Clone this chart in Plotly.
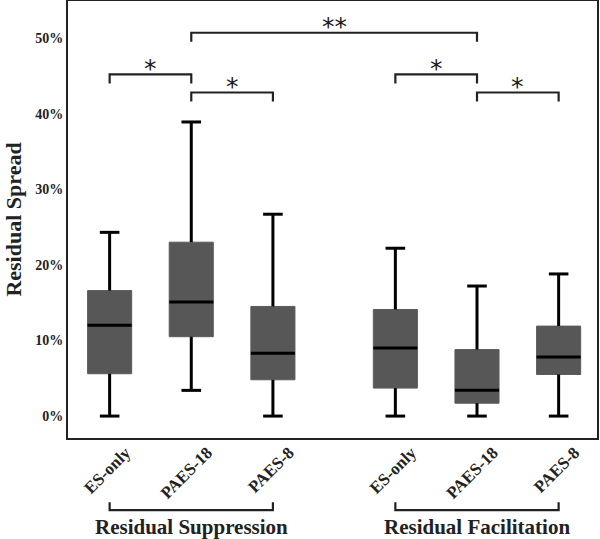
import plotly.graph_objects as go

# ---- data ----
categories = ["ES-only", "PAES-18", "PAES-8", "ES-only", "PAES-18", "PAES-8"]
positions = [0, 1, 2, 3.5, 4.5, 5.5]
lower = [0.0, 3.4, 0.0, 0.0, 0.0, 0.0]
q1 = [5.6, 10.5, 4.8, 3.7, 1.7, 5.5]
median = [12.0, 15.1, 8.3, 9.0, 3.4, 7.8]
q3 = [16.6, 23.0, 14.5, 14.1, 8.8, 11.9]
upper = [24.3, 38.9, 26.7, 22.2, 17.2, 18.8]

y_ticks = [0, 10, 20, 30, 40, 50]
y_ticktext = ["0%", "10%", "20%", "30%", "40%", "50%"]

# significance comparisons (category indices)
comp_a = [0, 1, 1, 3, 4]
comp_b = [1, 2, 4, 4, 5]
comp_y = [45.2, 42.8, 50.7, 45.2, 42.8]
comp_label = ["*", "*", "**", "*", "*"]

groups = ["Residual Suppression", "Residual Facilitation"]
group_first = [0, 3]
group_last = [2, 5]

FONT = "Liberation Serif"
BOX_W = 0.54
CAP_HW = 0.12
DROP = 1.2

fig = go.Figure()

fig.add_trace(go.Box(
    x=positions, q1=q1, median=median, q3=q3,
    lowerfence=lower, upperfence=upper,
    width=BOX_W, fillcolor="#575757",
    line=dict(color="#5c5c5c", width=1),
    whiskerwidth=0, boxpoints=False, showlegend=False, hoverinfo="skip",
))

# black whiskers, caps and medians
wx, wy = [], []
for p, lo, a, m, b, hi in zip(positions, lower, q1, median, q3, upper):
    wx += [p, p, None, p, p, None]
    wy += [b, hi, None, lo, a, None]
    wx += [p - CAP_HW, p + CAP_HW, None, p - CAP_HW, p + CAP_HW, None]
    wy += [hi, hi, None, lo, lo, None]
fig.add_trace(go.Scatter(x=wx, y=wy, mode="lines",
                         line=dict(color="black", width=3),
                         showlegend=False, hoverinfo="skip"))
mx, my = [], []
for p, m in zip(positions, median):
    mx += [p - BOX_W / 2, p + BOX_W / 2, None]
    my += [m, m, None]
fig.add_trace(go.Scatter(x=mx, y=my, mode="lines",
                         line=dict(color="black", width=3),
                         showlegend=False, hoverinfo="skip"))

# significance brackets
bx, by = [], []
for a, b, yv, lab in zip(comp_a, comp_b, comp_y, comp_label):
    xa, xb = positions[a], positions[b]
    bx += [xa, xa, xb, xb, None]
    by += [yv - DROP, yv, yv, yv - DROP, None]
    fig.add_annotation(x=(xa + xb) / 2, y=yv + 0.8, xref="x", yref="y",
                       text=lab, showarrow=False, yanchor="middle",
                       font=dict(family="DejaVu Sans", size=25, color="#1a1a1a"))
fig.add_trace(go.Scatter(x=bx, y=by, mode="lines",
                         line=dict(color="#222", width=2.2),
                         showlegend=False, hoverinfo="skip"))

# group brackets below the axis
for name, f, l in zip(groups, group_first, group_last):
    xa, xb = positions[f], positions[l]
    fig.add_shape(type="path", xref="x", yref="paper",
                  path=f"M {xa} -0.147 L {xa} -0.165 L {xb} -0.165 L {xb} -0.147",
                  line=dict(color="#222", width=2.2))
    fig.add_annotation(x=(xa + xb) / 2, y=-0.203, xref="x", yref="paper",
                       text=name, showarrow=False, yanchor="middle",
                       font=dict(family=FONT, size=21, color="#222", weight="bold"))

fig.update_layout(
    width=600, height=539,
    margin=dict(l=68, r=3, t=1, b=101),
    plot_bgcolor="white", paper_bgcolor="white",
    font=dict(family=FONT, color="#222"),
)
fig.update_xaxes(
    range=[-0.51, 5.97], tickvals=positions, ticktext=categories,
    tickangle=-45, showgrid=False, zeroline=False, ticks="",
    ticklabelshift=16, ticklabelstandoff=-4,
    tickfont=dict(family=FONT, size=17, color="#222", weight="bold"),
    showline=True, linecolor="#222", linewidth=2, mirror=True,
    automargin=False,
)
fig.update_yaxes(
    range=[-2.9, 54.9], tickvals=y_ticks, ticktext=y_ticktext,
    showgrid=False, zeroline=False, ticks="",
    tickfont=dict(family=FONT, size=14, color="#222", weight="bold"),
    showline=True, linecolor="#222", linewidth=2, mirror=True,
    automargin=False,
    title=dict(text="Residual Spread", standoff=8,
               font=dict(family=FONT, size=22, color="#222", weight="bold")),
)

fig.write_html(
    "out.html",
    config={"displayModeBar": False},
    post_script="document.body.style.margin='0';document.body.style.overflow='hidden';",
)
